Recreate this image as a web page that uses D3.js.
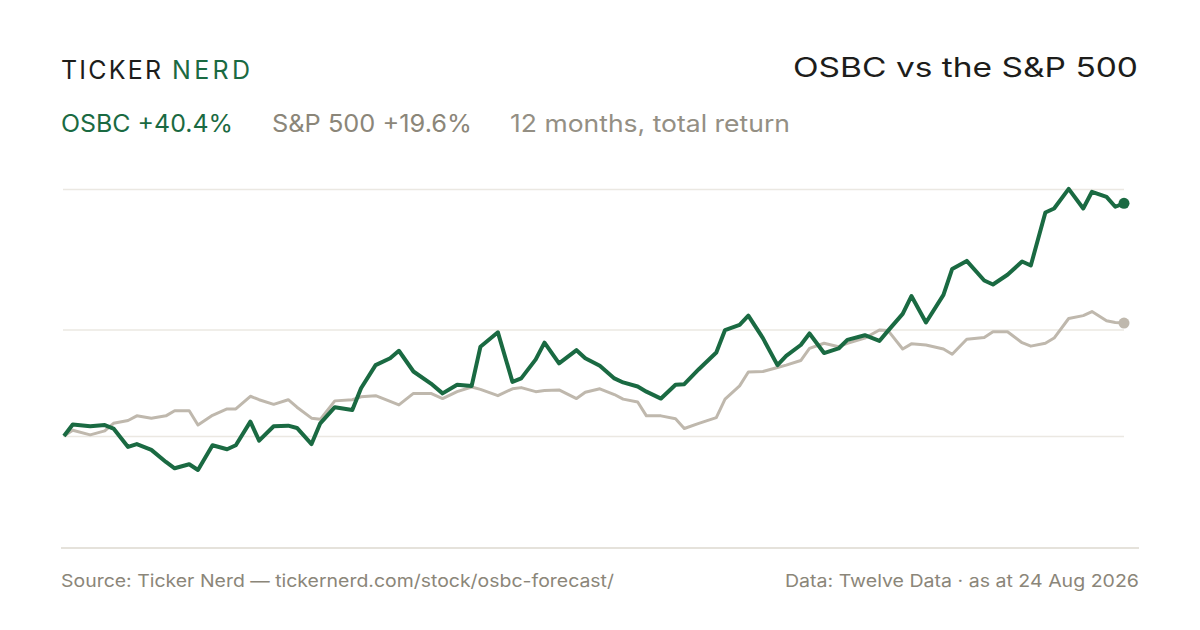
<!DOCTYPE html>
<html>
<head>
<meta charset="utf-8">
<script src="https://cdn.jsdelivr.net/npm/d3@7/dist/d3.min.js"></script>
<style>
  html, body { margin: 0; padding: 0; background: #ffffff; }
  svg { display: block; font-family: Inter, "Noto Sans", sans-serif; }
</style>
</head>
<body>
<svg id="chart" width="1200" height="630"></svg>
<script>
// ---- data ----
const dates = [
  "2025-08-25","2025-08-28","2025-09-03","2025-09-08","2025-09-11","2025-09-16","2025-09-19","2025-09-24","2025-09-29","2025-10-02",
  "2025-10-07","2025-10-10","2025-10-15","2025-10-20","2025-10-23","2025-10-28","2025-10-31","2025-11-05","2025-11-10","2025-11-13",
  "2025-11-18","2025-11-21","2025-11-26","2025-12-02","2025-12-05","2025-12-10","2025-12-15","2025-12-18","2025-12-23","2025-12-29",
  "2026-01-02","2026-01-07","2026-01-12","2026-01-15","2026-01-21","2026-01-26","2026-01-29","2026-02-03","2026-02-06","2026-02-11",
  "2026-02-17","2026-02-20","2026-02-25","2026-03-02","2026-03-05","2026-03-10","2026-03-13","2026-03-18","2026-03-23","2026-03-26",
  "2026-03-31","2026-04-06","2026-04-09","2026-04-14","2026-04-17","2026-04-22","2026-04-27","2026-04-30","2026-05-05","2026-05-08",
  "2026-05-13","2026-05-18","2026-05-21","2026-05-27","2026-06-01","2026-06-04","2026-06-09","2026-06-12","2026-06-17","2026-06-23",
  "2026-06-26","2026-07-01","2026-07-07","2026-07-10","2026-07-15","2026-07-20","2026-07-23","2026-07-28","2026-07-31","2026-08-05",
  "2026-08-10","2026-08-13","2026-08-18","2026-08-21","2026-08-24"
];
// cumulative total return, %
const osbcReturn = [
  0.0, 2.0, 1.7, 1.9, 1.3, -1.9, -1.4, -2.4, -4.5, -5.6,
  -4.9, -5.9, -1.6, -2.3, -1.6, 2.5, -0.8, 1.7, 1.8, 1.4,
  -1.4, 2.2, 5.0, 4.5, 8.3, 12.3, 13.5, 14.8, 11.2, 9.1,
  7.4, 8.9, 8.7, 15.5, 18.0, 9.4, 10.0, 13.3, 16.2, 12.6,
  14.9, 13.5, 12.2, 10.0, 9.3, 8.6, 7.7, 6.5, 8.9, 9.0,
  11.6, 14.5, 18.4, 19.3, 20.9, 17.0, 12.3, 13.9, 15.8, 17.8,
  14.4, 15.2, 16.7, 17.5, 16.5, 18.3, 21.2, 24.3, 19.7, 24.5,
  29.0, 30.4, 27.0, 26.3, 28.0, 30.3, 29.6, 38.8, 39.5, 42.9,
  39.5, 42.4, 41.5, 39.8, 40.4
];
const spxReturn = [
  0.0, 1.0, 0.2, 0.9, 2.2, 2.7, 3.5, 3.1, 3.5, 4.4,
  4.4, 1.9, 3.6, 4.7, 4.7, 6.9, 6.3, 5.5, 6.3, 5.0,
  3.1, 2.9, 6.1, 6.3, 6.8, 7.0, 6.0, 5.4, 7.4, 7.4,
  6.5, 7.7, 8.5, 8.1, 7.0, 8.2, 8.4, 7.7, 7.9, 8.0,
  6.5, 7.6, 8.2, 7.2, 6.4, 5.9, 3.5, 3.5, 3.0, 1.3,
  2.2, 3.2, 6.4, 8.7, 11.1, 11.2, 11.9, 12.3, 13.1, 15.2,
  16.1, 15.5, 16.1, 17.0, 18.4, 18.3, 15.1, 16.0, 15.8, 15.1,
  14.2, 16.8, 17.1, 18.1, 18.1, 16.2, 15.6, 16.1, 17.0, 20.4,
  20.9, 21.6, 20.0, 19.7, 19.6
];
const gridValues = [0, 18.5, 42.9];
const yDomain = [-19.44, 42.88];

const brandLeft = "TICKER";
const brandRight = "NERD";
const titleText = "OSBC vs the S&P 500";
const legendItems = ["OSBC +40.4%", "S&P 500 +19.6%", "12 months, total return"];
const sourceText = "Source: Ticker Nerd — tickernerd.com/stock/osbc-forecast/";
const dataText = "Data: Twelve Data · as at 24 Aug 2026";

// ---- drawing ----
const GREEN = "#1a6a42";
const SAND = "#bfb8ad";
const GREY = "#8b8679";

const svg = d3.select("#chart");
const parse = d3.utcParse("%Y-%m-%d");
const osbc = dates.map((d, i) => ({ date: parse(d), v: osbcReturn[i] }));
const spx = dates.map((d, i) => ({ date: parse(d), v: spxReturn[i] }));

const x = d3.scaleUtc()
  .domain(d3.extent(osbc, d => d.date))
  .range([64, 1124]);
const y = d3.scaleLinear().domain(yDomain).range([548, 189]);

function fitText(sel, width, mode) {
  return sel.attr("textLength", width).attr("lengthAdjust", mode || "spacingAndGlyphs");
}

// header
fitText(svg.append("text")
  .attr("x", 61).attr("y", 79)
  .attr("font-size", 25).attr("fill", "#1d1d1b")
  .text(brandLeft), 100, "spacing");
fitText(svg.append("text")
  .attr("x", 172).attr("y", 79)
  .attr("font-size", 25).attr("fill", GREEN)
  .text(brandRight), 78, "spacing");

fitText(svg.append("text")
  .attr("x", 793).attr("y", 76.5)
  .attr("font-size", 27).attr("fill", "#1d1d1b")
  .text(titleText), 345);

// legend
const legendX = [61, 272, 510];
const legendW = [172, 200, 280];
const legendColors = [GREEN, GREY, "#948f84"];
legendItems.forEach((t, i) => {
  fitText(svg.append("text")
    .attr("x", legendX[i]).attr("y", 132)
    .attr("font-size", 24).attr("fill", legendColors[i])
    .text(t), legendW[i]);
});

// gridlines
svg.append("g")
  .attr("transform", "translate(63,0)")
  .call(d3.axisLeft(y).tickValues(gridValues).tickSize(-(1124 - 63)).tickFormat(""))
  .call(g => g.select(".domain").remove())
  .call(g => g.selectAll(".tick line").attr("stroke", "#ebe8e2").attr("stroke-width", 1.5));

// bottom axis line
svg.append("line")
  .attr("x1", 61).attr("x2", 1139)
  .attr("y1", y(yDomain[0])).attr("y2", y(yDomain[0]))
  .attr("stroke", "#dcd8cf").attr("stroke-width", 1.5);

const line = d3.line().x(d => x(d.date)).y(d => y(d.v));

svg.append("path").datum(spx)
  .attr("fill", "none").attr("stroke", SAND)
  .attr("stroke-width", 3).attr("stroke-linejoin", "round")
  .attr("d", line);

svg.append("path").datum(osbc)
  .attr("fill", "none").attr("stroke", GREEN)
  .attr("stroke-width", 4).attr("stroke-linejoin", "round")
  .attr("d", line);

const lastS = spx[spx.length - 1];
const lastO = osbc[osbc.length - 1];
svg.append("circle").attr("cx", x(lastS.date)).attr("cy", y(lastS.v)).attr("r", 5.5).attr("fill", SAND);
svg.append("circle").attr("cx", x(lastO.date)).attr("cy", y(lastO.v)).attr("r", 5.5).attr("fill", GREEN);

// footer
fitText(svg.append("text")
  .attr("x", 61).attr("y", 587)
  .attr("font-size", 17.5).attr("fill", GREY)
  .text(sourceText), 553);
fitText(svg.append("text")
  .attr("x", 785).attr("y", 587)
  .attr("font-size", 17.5).attr("fill", GREY)
  .text(dataText), 354);
</script>
</body>
</html>
